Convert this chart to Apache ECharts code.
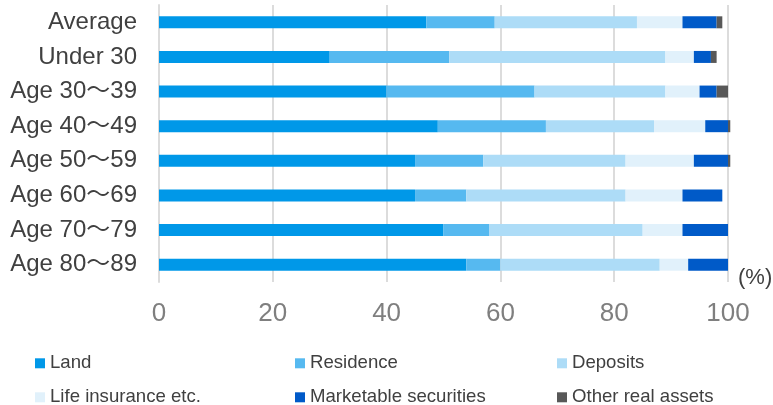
<!DOCTYPE html>
<html>
<head>
<meta charset="utf-8">
<script src="https://cdn.jsdelivr.net/npm/echarts@6/dist/echarts.min.js"></script>
<style>
  html, body { margin: 0; padding: 0; background: #ffffff; }
  #chart { width: 773px; height: 405px; }
</style>
</head>
<body>
<div id="chart"></div>
<script>
// Age groups, top to bottom
const categories = ['Average', 'Under 30', 'Age 30～39', 'Age 40～49', 'Age 50～59', 'Age 60～69', 'Age 70～79', 'Age 80～89'];

// Share of assets by type (%)
const land        = [47, 30, 40, 49, 45, 45, 50, 54];
const residence   = [12, 21, 26, 19, 12,  9,  8,  6];
const deposits    = [25, 38, 23, 19, 25, 28, 27, 28];
const lifeIns     = [ 8,  5,  6,  9, 12, 10,  7,  5];
const securities  = [ 6,  3,  3,  4,  6,  7,  8,  7];
const otherReal   = [ 1,  1,  2, 0.4, 0.4, 0, 0, 0];

const xTicks = [0, 20, 40, 60, 80, 100];

const seriesDefs = [
  { name: 'Land', data: land, color: '#0098E8' },
  { name: 'Residence', data: residence, color: '#56B9F0' },
  { name: 'Deposits', data: deposits, color: '#ADDCF7' },
  { name: 'Life insurance etc.', data: lifeIns, color: '#E1F1FB' },
  { name: 'Marketable securities', data: securities, color: '#005AC8' },
  { name: 'Other real assets', data: otherReal, color: '#585858' }
];

const font = '"Liberation Sans", Arial, "Noto Sans CJK JP", sans-serif';

// Legend laid out as a 3 x 2 grid, one legend component per entry
const legendPos = [
  { left: 35, top: 354 }, { left: 295, top: 354 }, { left: 557, top: 354 },
  { left: 35, top: 388 }, { left: 295, top: 388 }, { left: 557, top: 388 }
];

const chart = echarts.init(document.getElementById('chart'));

chart.setOption({
  animation: false,
  backgroundColor: '#ffffff',
  textStyle: { fontFamily: font },
  grid: { left: 159, right: 45, top: 5, bottom: 123, containLabel: false },
  xAxis: {
    type: 'value',
    min: xTicks[0],
    max: xTicks[xTicks.length - 1],
    interval: 20,
    axisLine: { show: false },
    axisTick: { show: false },
    splitLine: { show: true, lineStyle: { color: '#DCDCDC', width: 2 } },
    axisLabel: {
      color: '#7F7F7F',
      fontSize: 26,
      fontFamily: font,
      margin: 19
    }
  },
  yAxis: {
    type: 'category',
    inverse: true,
    data: categories,
    axisLine: { show: true, lineStyle: { color: '#DCDCDC', width: 2 } },
    axisTick: { show: false },
    axisLabel: {
      color: '#404040',
      fontSize: 24,
      fontFamily: font,
      margin: 22
    }
  },
  legend: seriesDefs.map((s, i) => ({
    data: [s.name],
    left: legendPos[i].left,
    top: legendPos[i].top,
    padding: 0,
    itemWidth: 10,
    itemHeight: 10,
    icon: 'rect',
    selectedMode: false,
    textStyle: { color: '#404040', fontSize: 18.6, lineHeight: 18, fontFamily: font }
  })),
  graphic: [{
    type: 'text',
    left: 738,
    top: 267,
    style: { text: '(%)', fill: '#404040', fontSize: 22, fontFamily: font }
  }],
  series: seriesDefs.map(s => ({
    name: s.name,
    type: 'bar',
    stack: 'total',
    data: s.data,
    barWidth: 12,
    clip: false,
    itemStyle: { color: s.color },
    emphasis: { disabled: true }
  }))
});
</script>
</body>
</html>
